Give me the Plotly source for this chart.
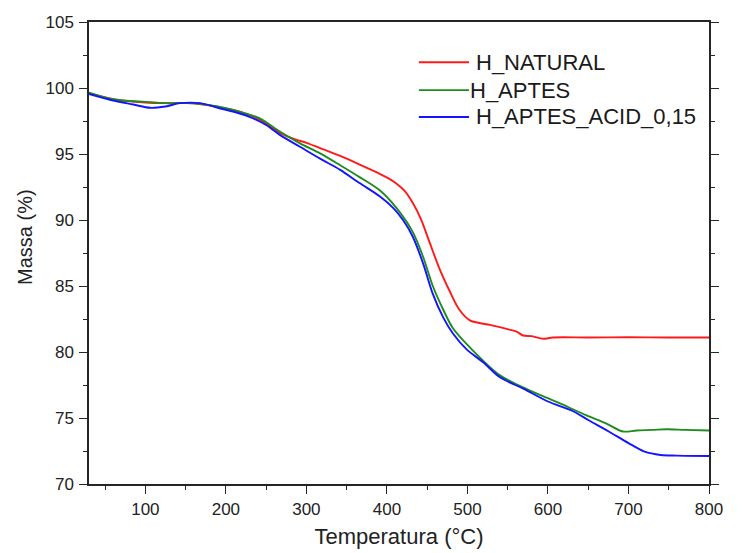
import plotly.graph_objects as go

# Thermogravimetric curves: mass (%) versus temperature (°C)
series_names = ["H_NATURAL", "H_APTES", "H_APTES_ACID_0,15"]
series_colors = ["#ff1a1a", "#1e8c1e", "#1414ff"]

natural_temp = [30, 60, 100, 130, 160, 200, 220, 242, 267, 286, 300, 317, 342, 366,
                391, 402, 412, 422, 432, 442, 453, 466, 478, 490, 503, 515, 528, 552,
                561, 569, 580, 594, 606, 650, 700, 750, 800]
natural_mass = [99.6, 99.15, 98.9, 98.85, 98.85, 98.45, 98.15, 97.6, 96.6, 96.1, 95.85,
                95.45, 94.85, 94.2, 93.5, 93.15, 92.75, 92.2, 91.3, 90.1, 88.3, 86.2,
                84.6, 83.2, 82.4, 82.2, 82.05, 81.7, 81.55, 81.25, 81.2, 81.0, 81.1,
                81.1, 81.12, 81.1, 81.1]

aptes_temp = [30, 60, 100, 130, 160, 190, 217, 242, 267, 292, 317, 342, 366, 391, 412,
              432, 445, 457, 470, 482, 503, 540, 577, 600, 615, 648, 672, 693, 710, 730,
              747, 770, 800]
aptes_mass = [99.65, 99.15, 98.95, 98.85, 98.85, 98.6, 98.2, 97.7, 96.7, 95.8, 95.05,
              94.15, 93.25, 92.25, 90.9, 89.1, 87.2, 85.0, 83.2, 81.8, 80.35, 78.25,
              77.1, 76.5, 76.1, 75.2, 74.6, 73.98, 74.05, 74.1, 74.15, 74.1, 74.05]

acid_temp = [30, 60, 85, 106, 125, 143, 168, 193, 210, 230, 250, 267, 292, 317, 342,
             366, 391, 408, 420, 432, 445, 457, 470, 482, 499, 520, 540, 570, 600, 630,
             650, 675, 700, 720, 740, 760, 800]
acid_mass = [99.55, 99.05, 98.75, 98.5, 98.6, 98.85, 98.85, 98.45, 98.2, 97.8, 97.2,
             96.45, 95.55, 94.65, 93.8, 92.8, 91.8, 90.9, 90.0, 88.75, 86.7, 84.4, 82.6,
             81.4, 80.2, 79.2, 78.1, 77.2, 76.25, 75.55, 74.85, 74.0, 73.1, 72.45, 72.2,
             72.15, 72.12]

x_ticks = [100, 200, 300, 400, 500, 600, 700, 800]
y_ticks = [70, 75, 80, 85, 90, 95, 100, 105]

FONT = "Liberation Sans, Arial, sans-serif"
AXIS_COLOR = "#262626"
TEXT_COLOR = "#222222"

temps = [natural_temp, aptes_temp, acid_temp]
masses = [natural_mass, aptes_mass, acid_mass]

fig = go.Figure()
for name, color, t, m in zip(series_names, series_colors, temps, masses):
    fig.add_trace(go.Scatter(
        x=t, y=m, name=name, mode="lines",
        line=dict(color=color, width=1.9, shape="spline", smoothing=0.9),
        showlegend=False,
    ))

tick_font = dict(family=FONT, size=17, color=TEXT_COLOR)
minor_y = dict(dtick=2.5, tick0=0, ticks="outside", ticklen=4,
               tickwidth=1.4, tickcolor=AXIS_COLOR)

fig.update_layout(
    width=756, height=553,
    margin=dict(l=89, r=47, t=22, b=69),
    paper_bgcolor="white", plot_bgcolor="white",
    font=dict(family=FONT, color=TEXT_COLOR),
    xaxis=dict(
        range=[30, 800], tickvals=x_ticks, automargin=False,
        showline=True, linecolor=AXIS_COLOR, linewidth=1.5, mirror=True,
        ticks="outside", ticklen=8, tickwidth=1.4, tickcolor=AXIS_COLOR,
        tickfont=tick_font, ticklabelstandoff=1,
        minor=dict(dtick=50, tick0=0, ticks="outside", ticklen=4,
                   tickwidth=1.4, tickcolor=AXIS_COLOR),
        showgrid=False, zeroline=False,
        title=dict(text="Temperatura (°C)", standoff=10,
                   font=dict(family=FONT, size=22, color=TEXT_COLOR)),
    ),
    # left axis; its ticks are mirrored onto the right-hand frame line
    yaxis=dict(
        range=[70, 105], tickvals=y_ticks, automargin=False,
        showline=True, linecolor=AXIS_COLOR, linewidth=1.5, mirror="ticks",
        ticks="outside", ticklen=8, tickwidth=1.4, tickcolor=AXIS_COLOR,
        tickfont=tick_font, ticklabelstandoff=2,
        minor=minor_y, showgrid=False, zeroline=False,
    ),
    # right-hand tick labels
    yaxis2=dict(
        range=[70, 105], tickvals=y_ticks, overlaying="y", side="right",
        anchor="x", showline=False, ticks="", tickfont=tick_font, automargin=False,
        ticklabelstandoff=19, showgrid=False, zeroline=False,
    ),
)

# Rotated y-axis title
fig.add_annotation(
    text="Massa (%)", xref="paper", yref="paper", x=-0.103, y=0.535,
    xanchor="center", yanchor="middle", textangle=-90, showarrow=False,
    font=dict(family=FONT, size=20, color=TEXT_COLOR),
)

# Legend key: a short coloured line followed by the series name
legend_rows_y = [0.9130, 0.8525, 0.7944]
legend_text_x = [0.621, 0.6115, 0.621]
for name, color, ry, tx in zip(series_names, series_colors, legend_rows_y, legend_text_x):
    fig.add_shape(type="line", xref="paper", yref="paper",
                  x0=0.532, x1=0.613, y0=ry, y1=ry,
                  line=dict(color=color, width=1.9))
    fig.add_annotation(text=name, xref="paper", yref="paper", x=tx, y=ry,
                       xanchor="left", yanchor="middle", showarrow=False,
                       font=dict(family=FONT, size=22, color="#1a1a1a"))

fig.write_html("out.html")
